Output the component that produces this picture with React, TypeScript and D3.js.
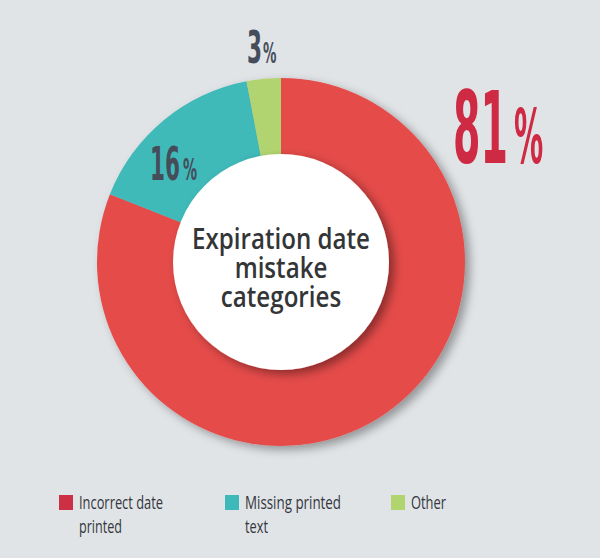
import { useEffect, useRef } from 'react';
import * as d3 from 'd3';

const categories = ['Incorrect date printed', 'Missing printed text', 'Other'];
const values = [81, 16, 3];
const sliceColors = ['#e44c49', '#3fb9b9', '#b2d46f'];
const legendColors = ['#cd3045', '#3db9b9', '#b2d46f'];
const legendLines = [['Incorrect date', 'printed'], ['Missing printed', 'text'], ['Other']];
const centerTitle = ['Expiration date', 'mistake', 'categories'];

export default function App() {
  const ref = useRef<SVGSVGElement>(null);

  useEffect(() => {
    if (!ref.current) return;
    const width = 600;
    const height = 558;
    const cx = 281;
    const cy = 262;
    const outer = 184;
    const inner = 108;
    const svg = d3.select(ref.current);
    svg.selectAll('*').remove();

    svg.append('rect').attr('width', width).attr('height', height).attr('fill', '#e1e4e7');

    const defs = svg.append('defs');
    defs.append('filter')
      .attr('id', 'ringShadow')
      .attr('x', '-20%').attr('y', '-20%').attr('width', '140%').attr('height', '140%')
      .append('feDropShadow')
      .attr('dx', 5).attr('dy', 4).attr('stdDeviation', 5)
      .attr('flood-color', '#000').attr('flood-opacity', 0.35);
    defs.append('filter')
      .attr('id', 'holeShadow')
      .attr('x', '-20%').attr('y', '-20%').attr('width', '140%').attr('height', '140%')
      .append('feDropShadow')
      .attr('dx', 5).attr('dy', 4).attr('stdDeviation', 5)
      .attr('flood-color', '#000').attr('flood-opacity', 0.4);

    const pie = d3.pie<number>().sort(null).value((d) => d);
    const arcs = pie(values);
    const arc = d3.arc<d3.PieArcDatum<number>>().innerRadius(0).outerRadius(outer);

    const g = svg.append('g').attr('transform', `translate(${cx},${cy})`);
    const ring = g.append('g').attr('filter', 'url(#ringShadow)');
    ring.selectAll('path')
      .data(arcs)
      .join('path')
      .attr('d', arc)
      .attr('fill', (_, i) => sliceColors[i]);

    g.append('circle')
      .attr('r', inner)
      .attr('fill', '#ffffff')
      .attr('filter', 'url(#holeShadow)');

    // center title: one text, squeezed so the first line is 178px wide
    const title = g.append('text')
      .attr('text-anchor', 'middle')
      .attr('font-family', '"Open Sans", "Noto Sans", sans-serif')
      .attr('font-weight', 600)
      .attr('font-size', 28)
      .attr('fill', '#333537');
    centerTitle.forEach((line, i) => {
      title.append('tspan').attr('x', 0).attr('y', -13 + i * 29).text(line);
    });
    const firstLine = title.select<SVGTSpanElement>('tspan').node();
    const titleW = firstLine ? firstLine.getComputedTextLength() : 178;
    title.attr('transform', `scale(${178 / titleW},1)`);

    // percentage labels: digits + smaller %, squeezed horizontally
    const labelLayout = [
      { x: 453, y: 163, numSize: 100, pctSize: 74, numW: 55, gap: 6, color: '#cf2a44' },
      { x: 150, y: 180, numSize: 46, pctSize: 30, numW: 30, gap: 3, color: '#454d5a' },
      { x: 247, y: 63, numSize: 45, pctSize: 28, numW: 15, gap: 1, color: '#454d5a' },
    ];
    const font = '"Liberation Sans Narrow", "DejaVu Sans Condensed", sans-serif';
    values.forEach((v, i) => {
      const l = labelLayout[i];
      const t = svg.append('text')
        .attr('font-family', font)
        .attr('font-weight', 700)
        .attr('fill', l.color);
      const num = t.append('tspan').attr('font-size', l.numSize).text(String(v));
      const pct = t.append('tspan').attr('font-size', l.pctSize).text('%');
      const natural = num.node()?.getComputedTextLength() ?? l.numW;
      const sx = l.numW / natural;
      pct.attr('dx', l.gap / sx);
      t.attr('transform', `translate(${l.x},${l.y}) scale(${sx},1)`);
    });

    // legend
    const legendX = d3.scalePoint<string>().domain(categories).range([59, 391]);
    const lineWidths = [[84, 43], [96, 23], [35]];
    categories.forEach((c, i) => {
      const x = legendX(c) ?? 0;
      svg.append('rect')
        .attr('x', x)
        .attr('y', 495)
        .attr('width', 14)
        .attr('height', 15)
        .attr('fill', legendColors[i]);
      legendLines[i].forEach((line, j) => {
        svg.append('text')
          .attr('x', x + 20)
          .attr('y', 509 + j * 24)
          .attr('font-family', '"Liberation Sans Narrow", "Open Sans", sans-serif')
          .attr('font-size', 19)
          .attr('fill', '#33373d')
          .attr('textLength', lineWidths[i][j])
          .attr('lengthAdjust', 'spacingAndGlyphs')
          .text(line);
      });
    });
  }, []);

  return (
    <svg
      ref={ref}
      width={600}
      height={558}
      viewBox="0 0 600 558"
      style={{ position: 'absolute', left: 0, top: 0, display: 'block' }}
    />
  );
}
